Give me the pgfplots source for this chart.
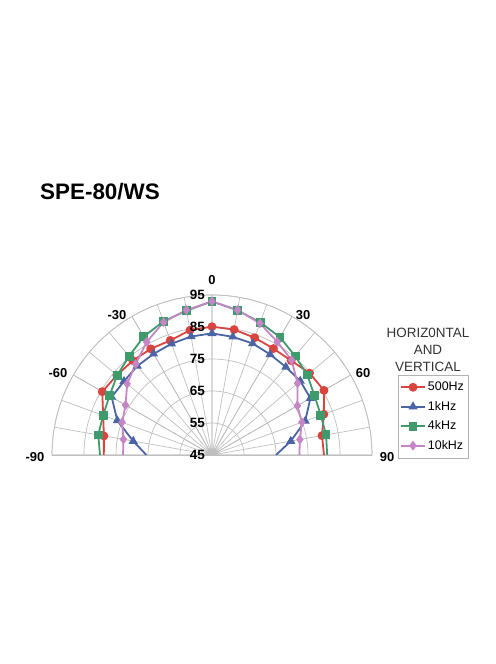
\documentclass[border=0pt]{standalone}
\usepackage{fontspec}
\setmainfont{Liberation Sans}
\usepackage{pgfplots}
\pgfplotsset{compat=1.18}
\usepackage{pgfplotstable}
\usepgfplotslibrary{polar}
\usetikzlibrary{calc}

\definecolor{cRed}{HTML}{D9443F}
\definecolor{cBlue}{HTML}{4A64A6}
\definecolor{cGreen}{HTML}{3F9A6C}
\definecolor{cViolet}{HTML}{C686C6}

% angle (0 = on axis, degrees) and level (dB)
\pgfplotstableread{
ang dB
-90 78.8
-80 79.3
-70 81.2
-60 84.6
-50 83.8
-40 83.5
-30 83.3
-20 83.1
-10 84.6
0 85.1
10 84.8
20 84.0
30 83.4
40 83.5
50 84.8
60 85.4
70 82.2
80 79.9
90 80.0
}\datRed
\pgfplotstableread{
ang dB
-90 65.5
-80 70.0
-70 76.5
-60 81.2
-50 80.9
-40 81.3
-30 81.5
-20 82.0
-10 82.6
0 83.0
10 82.5
20 82.1
30 81.3
40 80.9
50 81.0
60 80.5
70 76.0
80 70.0
90 65.0
}\datBlue
\pgfplotstableread{
ang dB
-90 80.0
-80 81.1
-70 81.2
-60 82.0
-50 83.7
-40 85.3
-30 87.7
-20 89.4
-10 90.8
0 93.0
10 90.9
20 89.1
30 87.5
40 85.4
50 83.9
60 82.0
70 81.2
80 81.2
90 81.0
}\datGreen
\pgfplotstableread{
ang dB
-90 72.8
-80 73.1
-70 74.9
-60 76.2
-50 79.6
-40 82.1
-30 85.8
-20 89.2
-10 91.0
0 93.0
10 91.0
20 88.8
30 85.8
40 83.7
50 79.9
60 75.8
70 74.9
80 72.9
90 72.3
}\datViolet

\begin{document}
\begin{tikzpicture}
\begin{polaraxis}[
    scale only axis, width=320bp,
    xmin=0, xmax=180, ymin=0, ymax=50,
    xtick={0,30,...,180}, xticklabels={},
    minor xtick={0,10,...,180},
    ytick={10,20,...,50}, yticklabels={},
    grid=both,
    major grid style={black!25, line width=0.7bp},
    minor grid style={black!25, line width=0.7bp},
    axis line style={black!25, line width=0.7bp},
    tick style={draw=none},
    every axis plot/.append style={line width=1.8bp, mark size=3.5bp, mark indices={2,...,18}},
    legend style={at={(axis description cs:1.081,0.5)}, anchor=north west,
      draw=black!30, font=\fontsize{12.5}{14}\selectfont,
      inner xsep=2bp, inner ysep=5bp, row sep=5bp},
    legend cell align=left,
    legend image code/.code={\draw[mark indices={2}] plot coordinates {(0bp,0bp) (12bp,0bp) (24bp,0bp)};},
  ]
  \coordinate (C) at (axis cs:0,0);
  \addplot[cRed, mark=*] table[x expr=90-\thisrow{ang}, y expr=\thisrow{dB}-45] {\datRed};
  \addlegendentry{500Hz}
  \addplot[cBlue, mark=triangle*] table[x expr=90-\thisrow{ang}, y expr=\thisrow{dB}-45] {\datBlue};
  \addlegendentry{1kHz}
  \addplot[cGreen, mark=square*] table[x expr=90-\thisrow{ang}, y expr=\thisrow{dB}-45] {\datGreen};
  \addlegendentry{4kHz}
  \addplot[cViolet, mark=diamond*] table[x expr=90-\thisrow{ang}, y expr=\thisrow{dB}-45] {\datViolet};
  \addlegendentry{10kHz}
\end{polaraxis}
% angle labels
\begin{scope}[every node/.style={inner sep=0pt, font=\fontsize{13}{15}\selectfont\bfseries}]
  \node at ($(C)+(0bp,175bp)$) {0};
  \node at ($(C)+(-95bp,140bp)$) {-30};
  \node at ($(C)+(91bp,140bp)$) {30};
  \node at ($(C)+(-154bp,82bp)$) {-60};
  \node at ($(C)+(151bp,82bp)$) {60};
  \node at ($(C)+(-177bp,-2bp)$) {-90};
  \node at ($(C)+(175bp,-2bp)$) {90};
\end{scope}
% radial level labels along the 0 degree spoke
\foreach \k in {45,55,65,75,85,95}
  \node[anchor=east, inner sep=0pt, font=\fontsize{13.5}{15}\selectfont\bfseries]
    at ($(C)+(-7bp,{3.2bp*(\k-45)})$) {\k};
\node[anchor=west, inner sep=0pt, font=\fontsize{22.5}{26}\selectfont\bfseries]
  at ($(C)+(-172bp,263bp)$) {SPE-80/WS};
\node[align=center, inner sep=0pt, font=\fontsize{13.5}{17}\selectfont, text=black!80]
  at ($(C)+(216bp,105bp)$) {HORIZ0NTAL\\AND\\VERTICAL};
\path[use as bounding box] ($(C)+(-212bp,-209bp)$) rectangle ($(C)+(284bp,455bp)$);
\end{tikzpicture}
\end{document}
